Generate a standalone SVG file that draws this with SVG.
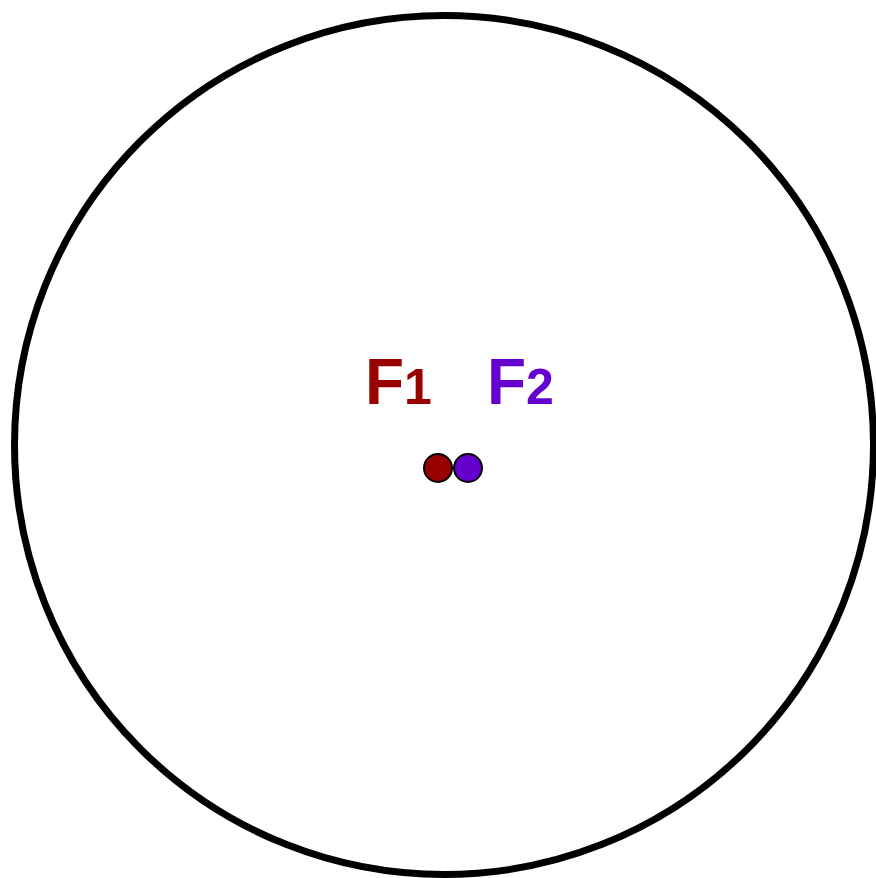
<svg xmlns="http://www.w3.org/2000/svg" width="876" height="878" viewBox="0 0 876 878">
<style>
.lbl{font-family:"Liberation Sans",Arial,sans-serif;font-weight:bold;font-size:64px}
.sub{font-size:50px}
.dot{stroke:#000;stroke-width:2}
</style>
<rect width="876" height="878" fill="#fff"/>
<g id="ellipse">
<circle cx="444" cy="445" r="429.5" fill="none" stroke="#000" stroke-width="7"/>
</g>
<g id="F1">
<circle class="dot" cx="438" cy="468" r="14" fill="#990000"/>
<text class="lbl" x="365" y="404" fill="#990000">F<tspan class="sub">1</tspan></text>
</g>
<g id="F2">
<circle class="dot" cx="468" cy="468" r="14" fill="#6600CC"/>
<text class="lbl" x="487" y="404" fill="#6600CC">F<tspan class="sub">2</tspan></text>
</g>
<g id="connectors"></g>
</svg>
